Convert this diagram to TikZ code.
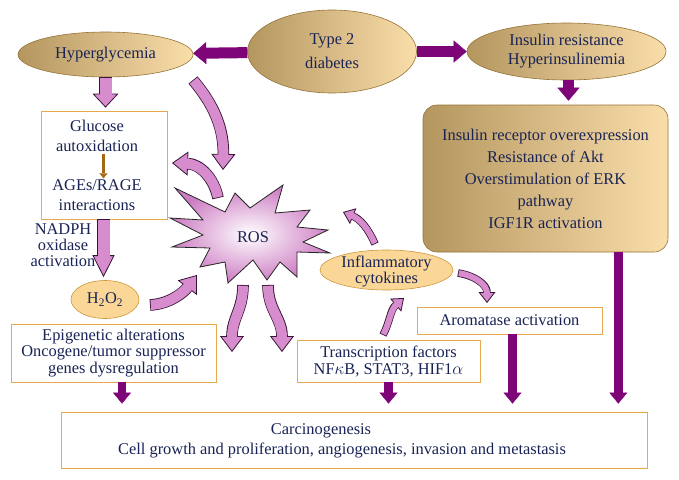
\documentclass[tikz,border=0pt]{standalone}
\usepackage{fontspec}
\setmainfont{Liberation Serif}
\usetikzlibrary{shapes.geometric,arrows.meta,calc}
\definecolor{navy}{RGB}{25,35,85}
\definecolor{tanD}{RGB}{180,150,95}
\definecolor{tanL}{RGB}{250,222,170}
\definecolor{tanedge}{RGB}{150,115,55}
\definecolor{boxorange}{RGB}{232,170,80}
\definecolor{ofill}{RGB}{250,215,150}
\definecolor{oedge}{RGB}{205,150,60}
\definecolor{pfill}{RGB}{215,140,205}
\definecolor{pedge}{RGB}{55,20,55}
\definecolor{starpink}{RGB}{205,125,195}
\definecolor{purp}{RGB}{125,5,120}
\definecolor{brownarr}{RGB}{165,105,20}
\newcommand{\pinkarrow}[6]{%
  \draw[draw=pedge, line width=#2, -{Triangle[length=#3, width=#4, fill=pfill, line width=0.8pt]}] #6;
  \draw[draw=pfill, line width=#1, shorten <=0.8pt, shorten >=#5] #6;}
\tikzset{
  txt/.style={text=navy, align=center, inner sep=0pt},
  tanell/.style={ellipse, draw=tanedge, line width=0.6pt, left color=tanD, right color=tanL, txt},
  oell/.style={ellipse, draw=oedge, fill=ofill, line width=0.6pt, inner sep=0pt, text=navy},
  obox/.style={rectangle, draw=boxorange, line width=0.8pt, fill=white, inner sep=0pt, txt},
  parrA/.style={draw=purp, line width=11pt, -{Triangle[length=13pt, width=22pt, line width=0.4pt]}},
  parrB/.style={draw=purp, line width=8.5pt, -{Triangle[length=11pt, width=18pt, line width=0.4pt]}},
  starstyle/.style={draw=black!85, line width=0.8pt, inner color=white, outer color=starpink},
}
\begin{document}
\begin{tikzpicture}[x=1pt, y=-1pt, font=\fontsize{16.4}{20}\selectfont]
\useasboundingbox (0,0) rectangle (679,479);
% top ellipses
\node[tanell, minimum width=175pt, minimum height=45pt] (hyper) at (105.5,54.5) {Hyperglycemia};
\node[tanell, minimum width=169pt, minimum height=83pt, font=\fontsize{16.4}{24}\selectfont] (type2) at (332,51.5) {Type 2\\diabetes};
\node[tanell, minimum width=199pt, minimum height=57pt, font=\fontsize{16.4}{19}\selectfont] (insulin) at (566.5,51.5) {Insulin resistance\\Hyperinsulinemia};
% insulin box
\node[draw=tanedge, line width=0.6pt, rounded corners=14pt, left color=tanD, right color=tanL, minimum width=245pt, minimum height=147pt, txt, font=\fontsize{16.4}{22}\selectfont] (irbox) at (545.5,178.5) {Insulin receptor overexpression\\Resistance of Akt\\Overstimulation of ERK\\pathway\\IGF1R activation};
% glucose box
\node[obox, minimum width=126pt, minimum height=108pt] (glu) at (104,165) {};
\node[txt] (glut1) at (97,136) {Glucose\\autoxidation};
\node[txt] (glut2) at (97,195) {AGEs/RAGE\\interactions};
\node[txt, font=\fontsize{16.4}{16}\selectfont] (nadph) at (63,245) {NADPH\\oxidase\\activation};
\node[oell, minimum width=68pt, minimum height=38pt] (h2o2) at (105,299.5) {H\textsubscript{2}O\textsubscript{2}};
\node[obox, minimum width=205pt, minimum height=58pt, font=\fontsize{16.4}{16.5}\selectfont] (epi) at (113.5,353) {Epigenetic alterations\\Oncogene/tumor suppressor\\genes dysregulation};
% ROS star
\draw[starstyle] (170,218) -- (203,220) -- (175,188) -- (225,212) -- (235,193) -- (250,208) -- (283,185) -- (275,213) -- (310,210) -- (297,227) -- (328,230) -- (303,242) -- (330,253) -- (297,252) -- (297,277) -- (280,262) -- (267,280) -- (253,260) -- (228,283) -- (225,262) -- (200,267) -- (210,248) -- (172,247) -- (203,235) -- cycle;
\node[txt] (ros) at (253,237) {ROS};
% right middle
\node[oell, minimum width=133pt, minimum height=40pt] (infl) at (386.5,270) {};
\node[txt, font=\fontsize{16.4}{16}\selectfont] (inflt) at (386.5,271) {Inflammatory\\cytokines};
\node[obox, minimum width=185pt, minimum height=27pt] (arom) at (509.5,320.5) {Aromatase activation};
\node[obox, minimum width=183pt, minimum height=42pt, font=\fontsize{16.4}{17}\selectfont] (trans) at (388.5,361) {Transcription factors\\NF$\kappa$B, STAT3, HIF1$\alpha$};
% carcinogenesis
\node[obox, minimum width=586pt, minimum height=56pt] (carc) at (354,440) {};
\node[txt] (carct1) at (321,431) {Carcinogenesis};
\node[txt] (carct2) at (342,450) {Cell growth and proliferation, angiogenesis, invasion and metastasis};
% purple arrows
\draw[parrA] (type2) -- (hyper);
\draw[parrA] (type2) -- (insulin);
\draw[parrA, shorten >=4pt] ([xshift=2pt]insulin.south) -- ([xshift=2pt]insulin.south |- irbox.north);
\draw[parrB, shorten >=8pt] ([xshift=-50pt]irbox.south east) -- ([xshift=-50pt]irbox.south east |- carc.north);
\draw[parrB, shorten >=8pt] ([xshift=3pt]arom.south) -- ([xshift=3pt]arom.south |- carc.north);
\draw[parrB, shorten >=8pt] (trans.south) -- (trans.south |- carc.north);
\draw[parrB, shorten >=8pt] ([xshift=8.5pt]epi.south) -- ([xshift=8.5pt]epi.south |- carc.north);
% brown small arrow
\draw[draw=brownarr, line width=2.5pt, shorten <=2pt, shorten >=1pt, -{Triangle[length=5pt, width=8pt, line width=0.2pt]}] ([xshift=6.5pt]glut1.south) -- ([xshift=6.5pt]glut2.north);
% pink straight arrows
\coordinate (s1e) at ($(hyper.south |- glu.north)+(0,-3)$);
\pinkarrow{12pt}{13.6pt}{14pt}{26pt}{12.5pt}{(hyper.south) -- (s1e)}
\coordinate (s2s) at ($(glu.south)+(-0.5,0)$);
\coordinate (s2e) at ($(glu.south |- h2o2.north)+(-0.5,-3)$);
\pinkarrow{12pt}{13.6pt}{22pt}{22pt}{20.5pt}{(s2s) -- (s2e)}
% curved pink arrows
\coordinate (a1s) at (193,80);   \coordinate (a1e) at (223,170);
\coordinate (a2s) at (218,198);  \coordinate (a2e) at (172,163);
\coordinate (a3s) at (375,244);  \coordinate (a3e) at (343,212);
\coordinate (a4s) at (150,305);  \coordinate (a4e) at (197,275);
\coordinate (a5s) at (243,285);  \coordinate (a5e) at (232,352);
\coordinate (a6s) at (268,285);  \coordinate (a6e) at (282,352);
\coordinate (a7s) at (383,335);  \coordinate (a7e) at (404,298);
\coordinate (a8s) at (458,273);  \coordinate (a8e) at (487,303);
\pinkarrow{10pt}{11.6pt}{16pt}{24pt}{14.5pt}{(a1s) .. controls (208,98) and (224,122) .. (a1e)}
\pinkarrow{10pt}{11.6pt}{16pt}{24pt}{14.5pt}{(a2s) .. controls (214,178) and (200,164) .. (a2e)}
\pinkarrow{6pt}{7.6pt}{11pt}{17pt}{9.5pt}{(a3s) .. controls (368,228) and (360,219) .. (a3e)}
\pinkarrow{10pt}{11.6pt}{16pt}{24pt}{14.5pt}{(a4s) .. controls (170,304) and (184,292) .. (a4e)}
\pinkarrow{10pt}{11.6pt}{16pt}{24pt}{14.5pt}{(a5s) .. controls (243,310) and (232,318) .. (a5e)}
\pinkarrow{10pt}{11.6pt}{16pt}{24pt}{14.5pt}{(a6s) .. controls (268,310) and (282,318) .. (a6e)}
\pinkarrow{6pt}{7.6pt}{11pt}{17pt}{9.5pt}{(a7s) .. controls (390,322) and (390,310) .. (a7e)}
\pinkarrow{6pt}{7.6pt}{11pt}{17pt}{9.5pt}{(a8s) .. controls (476,276) and (487,285) .. (a8e)}
\end{tikzpicture}
\end{document}
